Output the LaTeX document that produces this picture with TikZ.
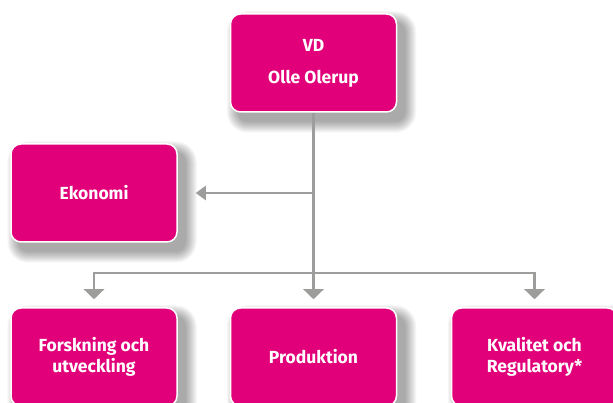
\documentclass[tikz,border=0pt]{standalone}
\usepackage{fontspec}
\setmainfont{Fira Sans}
\usetikzlibrary{arrows.meta}
\definecolor{boxmag}{HTML}{E2007A}
\definecolor{linegray}{HTML}{9D9D9C}
\pgfdeclarelayer{background}
\pgfsetlayers{background,main}
\begin{document}
\begin{tikzpicture}[x=1pt,y=-1pt,
  box/.style={draw=white, line width=1.5pt, fill=boxmag, rounded corners=10pt,
    minimum width=166pt, minimum height=98pt, text=white, align=center,
    font=\bfseries\fontsize{17.5}{21}\selectfont},
  shadowlayer/.style={fill=black, opacity=0.032},
  conn/.style={draw=linegray, line width=2.5pt, line join=miter},
  arr/.style={conn, -{Triangle[length=10pt,width=20pt]}},
  arrside/.style={conn, -{Triangle[length=10pt,width=14pt]}}]
\useasboundingbox (0,0) rectangle (613,403);
\node[box] (vd) at (313.5,63) {VD\\[11pt]Olle Olerup};
\node[box] (eko) at (94,193) {Ekonomi};
\node[box] (fou) at (94,357) {Forskning och\\utveckling};
\node[box] (prod) at (313.5,357) {Produktion};
\node[box] (kval) at (534.5,357) {Kvalitet och\\Regulatory*};
\begin{pgfonlayer}{background}
\fill[white] (0,0) rectangle (613,403);
\foreach \n in {vd,eko,fou,prod,kval}{
  \foreach \i [evaluate=\i as \r using 10+\i] in {0,...,11}{
    \fill[shadowlayer, rounded corners=\r pt]
      ([shift={(8-\i,9-\i)}]\n.north west) rectangle ([shift={(8+\i,9+\i)}]\n.south east);
  }
}
\end{pgfonlayer}
\coordinate (yline) at (0,273);
\coordinate (hub) at (vd.south |- yline);
\draw[conn] (vd.south) -- (hub);
\draw[arrside] (vd.south |- eko) -- ([xshift=18pt]eko.east);
\draw[arr] (hub) -| ([yshift=8pt]fou.north);
\draw[arr] (hub) -| ([yshift=8pt]kval.north);
\draw[arr] (hub) -- ([yshift=8pt]prod.north);
\end{tikzpicture}
\end{document}
